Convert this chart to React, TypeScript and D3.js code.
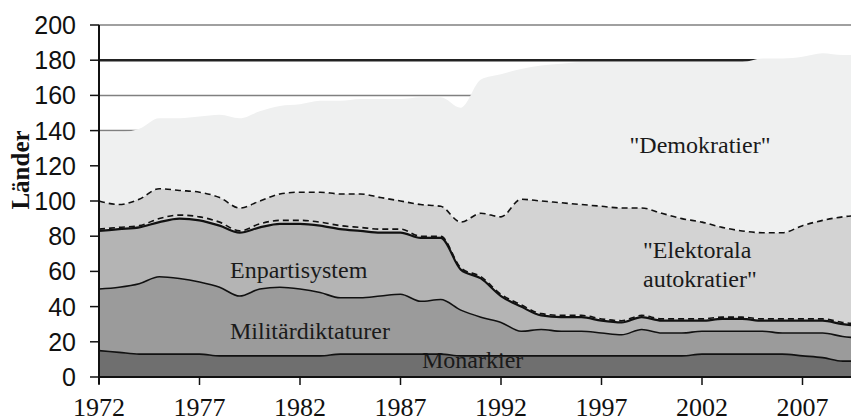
import * as d3 from "d3";
import React from "react";

const years = [
  1972, 1973, 1974, 1975, 1976, 1977, 1978, 1979, 1980, 1981,
  1982, 1983, 1984, 1985, 1986, 1987, 1988, 1989, 1990, 1991,
  1992, 1993, 1994, 1995, 1996, 1997, 1998, 1999, 2000, 2001,
  2002, 2003, 2004, 2005, 2006, 2007, 2008, 2009, 2010,
];

const monarkier = [15, 14, 13, 13, 13, 13, 12, 12, 12, 12, 12, 12, 13, 13, 13, 13, 13, 13, 12, 12, 12, 12, 12, 12, 12, 12, 12, 12, 12, 12, 13, 13, 13, 13, 13, 12, 11, 9, 9];
const militar = [35, 37, 40, 44, 43, 41, 39, 34, 38, 39, 38, 36, 32, 32, 33, 34, 30, 31, 26, 22, 19, 14, 15, 14, 14, 13, 12, 15, 13, 13, 13, 13, 13, 13, 12, 13, 14, 14, 13];
const enparti = [33, 33, 32, 31, 34, 35, 35, 36, 35, 36, 37, 38, 39, 38, 36, 35, 36, 35, 23, 22, 15, 14, 8, 8, 8, 7, 7, 7, 7, 7, 6, 7, 7, 6, 7, 7, 7, 7, 7];
const ovriga = [1, 1, 1, 2, 2, 2, 2, 1, 2, 2, 2, 2, 2, 2, 2, 2, 1, 1, 1, 1, 1, 1, 1, 1, 1, 1, 1, 1, 1, 1, 1, 1, 1, 1, 1, 1, 1, 1, 1];
const elektorala = [16, 13, 15, 17, 14, 14, 14, 13, 13, 15, 16, 17, 18, 19, 18, 16, 18, 17, 26, 36, 44, 60, 64, 64, 63, 64, 64, 61, 60, 57, 55, 51, 49, 49, 49, 53, 56, 60, 62];
const demokratier = [39, 41, 40, 40, 41, 43, 47, 51, 51, 50, 50, 52, 53, 54, 56, 58, 61, 62, 65, 76, 81, 74, 77, 79, 81, 82, 83, 83, 86, 89, 91, 94, 96, 99, 99, 96, 95, 92, 91];

const keys = ["mon", "mil", "en", "ovr", "el", "dem"];
const yTicks = [0, 20, 40, 60, 80, 100, 120, 140, 160, 180, 200];
const xTicks = [1972, 1977, 1982, 1987, 1992, 1997, 2002, 2007];

const fills = {
  mon: "#6f6f6f",
  mil: "#9b9b9b",
  en: "#b4b4b4",
  ovr: "#d3d3d3",
  el: "#d3d3d3",
  dem: "#eff0f0",
};

export default function App() {
  const width = 851;
  const height = 418;

  const x = d3.scaleLinear().domain([1972, 2010]).range([99, 99 + 38 * 20.1]);
  const y = d3.scaleLinear().domain([0, 200]).range([377, 25]);

  const table = years.map((yr, i) => ({
    year: yr,
    mon: monarkier[i],
    mil: militar[i],
    en: enparti[i],
    ovr: ovriga[i],
    el: elektorala[i],
    dem: demokratier[i],
  }));

  const series = d3.stack().keys(keys)(table);

  const area = d3
    .area()
    .x((d) => x(d.data.year))
    .y0((d) => y(d[0]))
    .y1((d) => y(d[1]))
    .curve(d3.curveMonotoneX);

  const topLine = d3
    .line()
    .x((d) => x(d.data.year))
    .y((d) => y(d[1]))
    .curve(d3.curveMonotoneX);

  const serif = "'Liberation Serif', 'DejaVu Serif', serif";

  return (
    <svg
      width={width}
      height={height}
      style={{ position: "fixed", left: 0, top: 0, background: "#fff" }}
    >
      {/* grid behind the areas */}
      {yTicks
        .filter((t) => t > 0)
        .map((t) => (
          <line
            key={"g" + t}
            x1={99}
            x2={width}
            y1={y(t)}
            y2={y(t)}
            stroke={t === 180 ? "#222" : "#808080"}
            strokeWidth={t === 180 ? 2.5 : 1.5}
          />
        ))}

      {series.map((s) => (
        <path key={s.key} d={area(s)} fill={fills[s.key]} />
      ))}

      {/* labels under the lines */}
      <g fontFamily={serif} fill="#1a1a1a" fontSize={24}>
        <text x={700} y={153} textAnchor="middle">"Demokratier"</text>
        <text x={643} y={258}>"Elektorala</text>
        <text x={643} y={287}>autokratier"</text>
        <text x={230} y={278}>Enpartisystem</text>
        <text x={230} y={339}>Militärdiktaturer</text>
        <text x={422} y={368}>Monarkier</text>
      </g>

      {series
        .filter((s) => s.key !== "dem")
        .map((s) => (
          <path
            key={"l" + s.key}
            d={topLine(s)}
            fill="none"
            stroke="#111"
            strokeWidth={s.key === "en" ? 2.2 : 1.6}
            strokeDasharray={s.key === "ovr" || s.key === "el" ? "6,4" : null}
          />
        ))}

      {/* axes */}
      <line x1={99} x2={width} y1={377} y2={377} stroke="#111" strokeWidth={2} />
      <line x1={99} x2={99} y1={25} y2={384} stroke="#111" strokeWidth={2} />
      {yTicks.map((t) => (
        <g key={"yt" + t}>
          <line x1={90} x2={99} y1={y(t)} y2={y(t)} stroke="#111" strokeWidth={1.5} />
          <text
            x={76}
            y={y(t)}
            dy="0.36em"
            textAnchor="end"
            fontFamily="'Liberation Sans', Arial, sans-serif"
            fontSize={25}
            fill="#111"
          >
            {t}
          </text>
        </g>
      ))}
      {xTicks.map((t) => (
        <g key={"xt" + t}>
          <line x1={x(t)} x2={x(t)} y1={377} y2={385} stroke="#111" strokeWidth={1.5} />
          <text
            x={x(t)}
            y={416}
            textAnchor="middle"
            fontFamily={serif}
            fontSize={26}
            fill="#111"
          >
            {t}
          </text>
        </g>
      ))}
      <text
        transform="translate(29,170) rotate(-90)"
        textAnchor="middle"
        fontFamily={serif}
        fontWeight="bold"
        fontSize={25}
        fill="#111"
      >
        Länder
      </text>
    </svg>
  );
}
